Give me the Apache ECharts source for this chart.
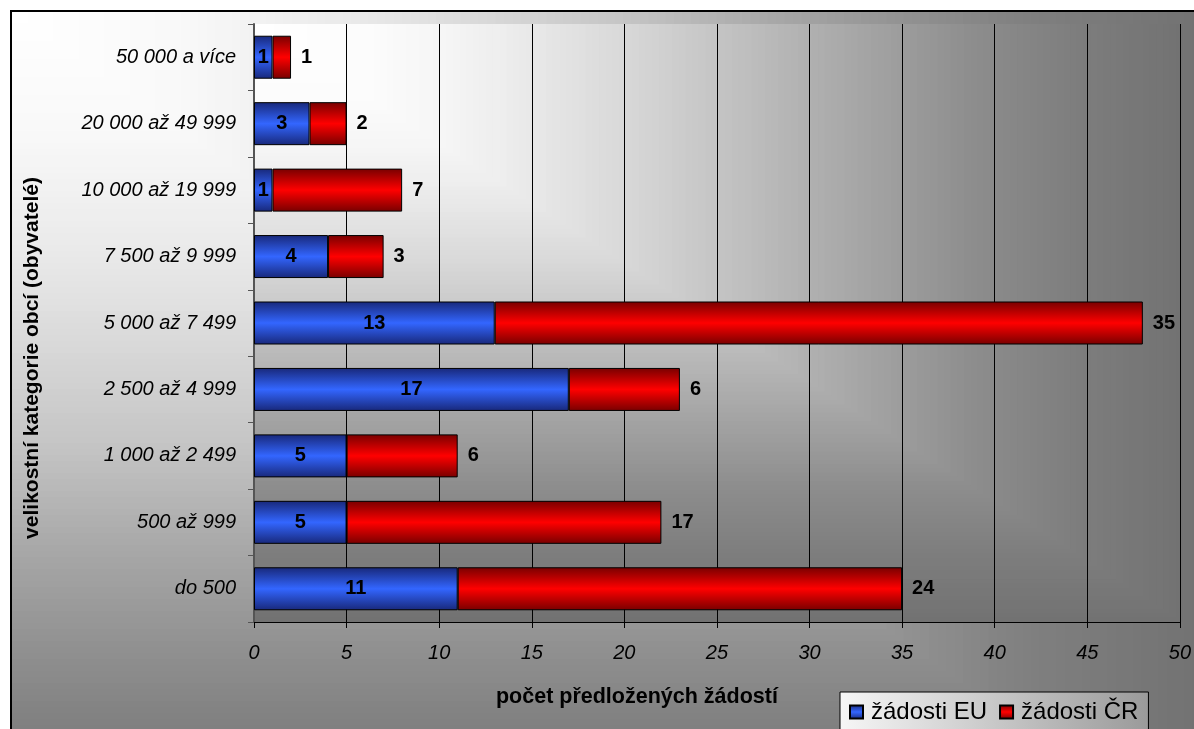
<!DOCTYPE html>
<html><head><meta charset="utf-8">
<script src="https://cdn.jsdelivr.net/npm/echarts@6/dist/echarts.min.js"></script>
<style>html,body{margin:0;padding:0;background:#fff}#c{width:1194px;height:729px}</style>
</head><body><div id="c"></div>
<script>
// ---- data ----
const categories = ['do 500', '500 až 999', '1 000 až 2 499', '2 500 až 4 999', '5 000 až 7 499', '7 500 až 9 999', '10 000 až 19 999', '20 000 až 49 999', '50 000 a více'];
const seriesEU = [11, 5, 5, 17, 13, 4, 1, 3, 1];
const seriesCR = [24, 17, 6, 6, 35, 3, 7, 2, 1];
const seriesNames = ['žádosti EU', 'žádosti ČR'];
const xAxisName = 'počet předložených žádostí';
const yAxisName = 'velikostní kategorie obcí (obyvatelé)';
const xMin = 0, xMax = 50, xStep = 5;

// ---- background helpers (rectangular "from corner" gradient) ----
function grayAt(stops, t) {
  if (t <= stops[0][0]) return stops[0][1];
  for (let i = 1; i < stops.length; i++) {
    if (t <= stops[i][0]) {
      const a = stops[i - 1], b = stops[i];
      return a[1] + (b[1] - a[1]) * (t - a[0]) / (b[0] - a[0]);
    }
  }
  return stops[stops.length - 1][1];
}
function rectGradient(x0, y0, W, H, Rx, Ry, stops, N, zBase) {
  const out = [];
  for (let i = N; i >= 1; i--) {
    const k = i / N;
    const g = Math.round(grayAt(stops, (i - 0.5) / N));
    out.push({
      type: 'rect', silent: true, z: -100, z2: zBase + (N - i),
      shape: { x: x0, y: y0, width: Math.min(k * Rx, W), height: Math.min(k * Ry, H) },
      style: { fill: 'rgb(' + g + ',' + g + ',' + g + ')' }
    });
  }
  return out;
}
const outerStops = [[0, 255], [0.15, 248], [0.3, 232], [0.42, 213], [0.52, 196], [0.63, 170], [0.76, 144], [0.85, 128], [0.98, 116], [1.0, 114]];
const plotStops = [[0, 255], [0.12, 252], [0.2, 246], [0.265, 238], [0.4, 216], [0.5, 196], [0.6, 176], [0.7, 156], [0.77, 142], [0.9, 124], [1.0, 114]];

const G = { left: 254, top: 24, width: 929, height: 598 };
const FONT = '"Liberation Sans", Arial, sans-serif';

const graphics = []
  .concat(rectGradient(11, 11, 1183, 718, 1190, 840, outerStops, 140, 0))
  .concat(rectGradient(G.left, G.top, G.width, G.height, G.width, G.height, plotStops, 140, 200))
  .concat([{
    type: 'rect', silent: true, z: -100, z2: 1000,
    shape: { x: 11, y: 11, width: 1400, height: 900 },
    style: { fill: null, stroke: '#000', lineWidth: 2 }
  }]);

function vGrad(edge, mid) {
  return { type: 'linear', x: 0, y: 0, x2: 0, y2: 1, colorStops: [
    { offset: 0, color: edge }, { offset: 0.5, color: mid }, { offset: 1, color: edge }] };
}

const chart = echarts.init(document.getElementById('c'), null, { renderer: 'canvas' });
chart.setOption({
  backgroundColor: '#ffffff',
  animation: false,
  textStyle: { fontFamily: FONT },
  graphic: graphics,
  grid: { left: G.left, top: G.top, width: G.width, height: G.height, containLabel: false },
  legend: {
    data: seriesNames,
    left: 840, top: 692,
    padding: [8, 10, 8, 9],
    itemGap: 12, itemWidth: 13, itemHeight: 13,
    icon: 'rect',
    backgroundColor: { type: 'linear', x: 0, y: 0, x2: 1, y2: 0, colorStops: [
      { offset: 0, color: '#f6f6f6' }, { offset: 0.5, color: '#c8c8c8' }, { offset: 1, color: '#9a9a9a' }] },
    borderColor: '#000', borderWidth: 1, borderRadius: 0,
    textStyle: { fontFamily: FONT, fontSize: 24, color: '#000', padding: [0, 0, 0, 3] }
  },
  xAxis: {
    type: 'value', min: xMin, max: xMax, interval: xStep,
    name: xAxisName, nameLocation: 'middle', nameGap: 64,
    nameTextStyle: { fontFamily: FONT, fontSize: 21.5, fontWeight: 'bold', color: '#000', padding: [0, 160, 0, 0] },
    axisLine: { show: true, lineStyle: { color: '#000', width: 1 } },
    axisTick: { show: true, length: 6, lineStyle: { color: '#000' } },
    axisLabel: { fontFamily: FONT, fontSize: 20, fontStyle: 'italic', color: '#000', margin: 21 },
    splitLine: { show: true, lineStyle: { color: '#000', width: 1 } }
  },
  yAxis: {
    type: 'category', data: categories,
    name: yAxisName, nameLocation: 'middle', nameGap: 211,
    nameTextStyle: { fontFamily: FONT, fontSize: 21, fontWeight: 'bold', color: '#000', padding: [0, 70, 0, 0] },
    axisLine: { show: true, lineStyle: { color: '#555', width: 2 } },
    axisTick: { show: true, length: 6, lineStyle: { color: '#555' } },
    axisLabel: { fontFamily: FONT, fontSize: 20, fontStyle: 'italic', color: '#000', margin: 18 },
    splitLine: { show: false }
  },
  series: [
    {
      name: seriesNames[0], type: 'bar', stack: 'total', data: seriesEU, barWidth: 43,
      itemStyle: { color: vGrad('#18287a', '#3366ff'), borderColor: '#000', borderWidth: 1 },
      label: { show: true, position: 'inside', color: '#000', fontFamily: FONT, fontSize: 20, fontWeight: 'bold' }
    },
    {
      name: seriesNames[1], type: 'bar', stack: 'total', data: seriesCR, barWidth: 43,
      itemStyle: { color: vGrad('#780000', '#ff0000'), borderColor: '#000', borderWidth: 1 },
      label: { show: true, position: 'right', distance: 10, color: '#000', fontFamily: FONT, fontSize: 20, fontWeight: 'bold' }
    }
  ]
});
</script></body></html>
